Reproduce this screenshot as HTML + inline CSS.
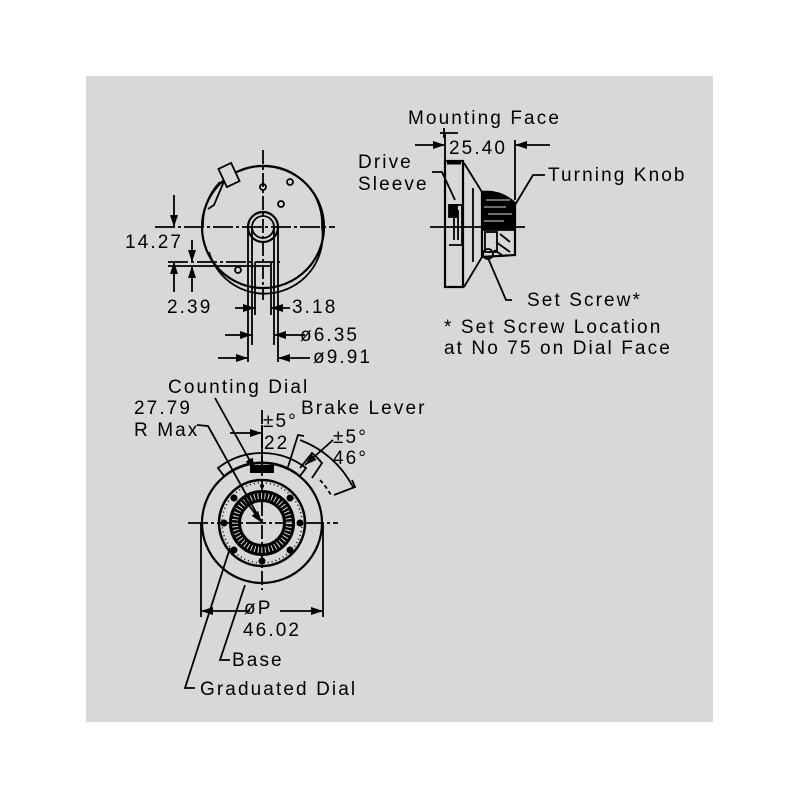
<!DOCTYPE html>
<html><head><meta charset="utf-8"><style>
html,body{margin:0;padding:0;background:#fff;}
svg{display:block;}
text{font-family:"Liberation Sans",sans-serif;font-size:19px;letter-spacing:2.1px;fill:#000;}
</style></head><body>
<svg width="800" height="800" viewBox="0 0 800 800" xmlns="http://www.w3.org/2000/svg">
<defs>
<marker id="a" markerWidth="12" markerHeight="8" refX="12" refY="4" orient="auto" markerUnits="userSpaceOnUse"><path d="M0,0 L12,4 L0,8 Z" fill="#000"/></marker>
</defs>
<rect x="86" y="76" width="627" height="646" fill="#d8d8d8"/>
<g stroke="#000" fill="none" stroke-width="1.8">
<!-- TOP LEFT VIEW -->
<circle cx="263" cy="227" r="61" stroke-width="2.2"/>
<path d="M220,182 A61,61 0 0 0 203,227" />
<path d="M240,171 A58,58 0 0 1 322,227 A58,58 0 0 1 209,252" />
<path d="M225,179 L214,205 L208,209"/>
<rect x="222" y="165" width="14" height="20" transform="rotate(-25 229 175)" fill="#d8d8d8"/>
<circle cx="263" cy="187" r="3"/><circle cx="290" cy="182" r="3"/><circle cx="281" cy="204" r="3"/><circle cx="238" cy="270" r="3"/>
<circle cx="263" cy="227" r="15" stroke-width="2.2"/><circle cx="263" cy="227" r="11"/>
<line x1="263" y1="150" x2="263" y2="300" stroke-dasharray="14,3,3,3"/>
<line x1="155" y1="227" x2="335" y2="227" stroke-dasharray="20,3,3,3"/>
<line x1="168" y1="262" x2="280" y2="262" stroke-dasharray="20,3,3,3"/>
<line x1="168" y1="266" x2="270" y2="266"/>
<line x1="248" y1="227" x2="248" y2="362"/><line x1="252" y1="227" x2="252" y2="345"/>
<line x1="255" y1="262" x2="255" y2="315"/><line x1="271" y1="262" x2="271" y2="315"/>
<line x1="274" y1="227" x2="274" y2="345"/><line x1="278" y1="227" x2="278" y2="362"/>
<line x1="174" y1="195" x2="174" y2="227" marker-end="url(#a)"/>
<line x1="174" y1="292" x2="174" y2="262" marker-end="url(#a)"/>
<line x1="192" y1="240" x2="192" y2="262" marker-end="url(#a)"/>
<line x1="192" y1="292" x2="192" y2="266" marker-end="url(#a)"/>
<line x1="235" y1="308" x2="255" y2="308" marker-end="url(#a)"/>
<line x1="290" y1="308" x2="271" y2="308" marker-end="url(#a)"/>
<line x1="225" y1="335" x2="252" y2="335" marker-end="url(#a)"/>
<line x1="305" y1="335" x2="274" y2="335" marker-end="url(#a)"/>
<line x1="218" y1="358" x2="248" y2="358" marker-end="url(#a)"/>
<line x1="310" y1="358" x2="278" y2="358" marker-end="url(#a)"/>
<!-- SIDE VIEW -->
<rect x="445" y="161" width="18" height="126" stroke-width="2.2"/>
<line x1="447" y1="163" x2="461" y2="163" stroke-width="3"/>
<path d="M464,163 L482,192 M464,287 L482,257 M473,188 L473,262"/>
<path d="M482,192 Q500,190 515,203 L515,255 L482,257 Z" stroke-width="2.2"/>
<path d="M482,193 Q500,191 514,204 L514,230 L482,230 Z" fill="#000"/>
<g stroke="#d8d8d8" stroke-width="1"><line x1="486" y1="200" x2="510" y2="200"/><line x1="484" y1="207" x2="506" y2="207"/><line x1="488" y1="214" x2="512" y2="214"/><line x1="484" y1="221" x2="504" y2="221"/></g>
<path d="M500,234 L510,242 M496,242 L510,252 M494,250 L502,255"/>
<rect x="485" y="232" width="12" height="20"/><circle cx="488" cy="254" r="5"/>
<path d="M449,205 L462,205 L462,245 L449,245 M454,210 L454,240 M458,210 L458,240"/>
<rect x="449" y="205" width="8" height="12" fill="#000"/>
<line x1="430" y1="227" x2="525" y2="227"/>
<line x1="445" y1="133" x2="445" y2="160"/><line x1="515" y1="140" x2="515" y2="200"/>
<line x1="415" y1="145" x2="445" y2="145" marker-end="url(#a)"/>
<line x1="550" y1="145" x2="515" y2="145" marker-end="url(#a)"/>
<line x1="440" y1="133" x2="458" y2="133"/><line x1="444" y1="128" x2="444" y2="138"/>
<path d="M432,172 L442,172 L455,200"/>
<path d="M545,175 L533,175 L515,205"/>
<path d="M512,300 L506,300 L488,258"/>
<!-- DIAL VIEW -->
<line x1="262" y1="410" x2="262" y2="590" stroke-dasharray="14,3,3,3"/>
<line x1="188" y1="523" x2="338" y2="523" stroke-dasharray="20,3,3,3"/>
<circle cx="262" cy="523" r="60" stroke-width="2.2"/>
<path d="M224,476 A60,60 0 0 1 300,476" />
<path d="M224,476 L218,468 A72,72 0 0 1 306,468 L300,476"/>
<path d="M300,468 L312,453 A72,72 0 0 1 322,463 L312,478" />
<path d="M320,480 A75,75 0 0 1 332,497" stroke-dasharray="4,3"/>
<circle cx="262" cy="523" r="43" stroke-width="2.5"/>
<circle cx="262" cy="523" r="40" stroke-width="1.5" stroke-dasharray="1,3"/>
<circle cx="262" cy="523" r="27" stroke-width="12"/>
<circle cx="262" cy="523" r="27" stroke="#d8d8d8" stroke-width="6" stroke-dasharray="1,2.5"/>
<g fill="#000" stroke="none">
<circle cx="262" cy="486" r="2"/><circle cx="290" cy="498" r="3.5"/><circle cx="300" cy="523" r="3.5"/><circle cx="290" cy="550" r="3.5"/>
<circle cx="262" cy="561" r="3.5"/><circle cx="234" cy="550" r="3.5"/><circle cx="224" cy="523" r="3.5"/><circle cx="234" cy="498" r="3.5"/>
<rect x="250" y="465" width="24" height="8"/>
</g>
<line x1="201" y1="523" x2="201" y2="617"/><line x1="323" y1="523" x2="323" y2="617"/>
<line x1="250" y1="611" x2="201" y2="611" marker-end="url(#a)"/>
<line x1="280" y1="611" x2="323" y2="611" marker-end="url(#a)"/>
<path d="M197,425 L208,426 L262,523" /><line x1="245" y1="500" x2="262" y2="523" marker-end="url(#a)"/>
<line x1="215" y1="398" x2="255" y2="470" marker-end="url(#a)"/>
<line x1="230" y1="433" x2="262" y2="433" marker-end="url(#a)"/>
<line x1="262" y1="425" x2="262" y2="470"/>
<line x1="333" y1="440" x2="305" y2="465" marker-end="url(#a)"/>
<path d="M288,467 L298,435 L304,436"/>
<path d="M300,440 A98,98 0 0 1 353,487"/>
<path d="M334,495 L355,487 L352,480"/>
<path d="M245,585 L220,660 L230,660"/>
<path d="M230,548 L185,688 L195,688"/>
</g>
<text x="408" y="124">Mounting Face</text>
<text x="449" y="154">25.40</text>
<text x="358" y="168">Drive</text>
<text x="358" y="190">Sleeve</text>
<text x="548" y="181">Turning Knob</text>
<text x="527" y="306">Set Screw*</text>
<text x="444" y="333">* Set Screw Location</text>
<text x="444" y="354">at No 75 on Dial Face</text>
<text x="125" y="248">14.27</text>
<text x="167" y="313">2.39</text>
<text x="292" y="313">3.18</text>
<text x="300" y="341">ø6.35</text>
<text x="313" y="363">ø9.91</text>
<text x="168" y="393">Counting Dial</text>
<text x="134" y="414">27.79</text>
<text x="134" y="436">R Max</text>
<text x="301" y="414">Brake Lever</text>
<text x="263" y="427">±5°</text>
<text x="264" y="449">22</text>
<text x="333" y="443">±5°</text>
<text x="333" y="464">46°</text>
<text x="244" y="614">øP</text>
<text x="243" y="636">46.02</text>
<text x="232" y="666">Base</text>
<text x="200" y="695">Graduated Dial</text>
</svg>
</body></html>
